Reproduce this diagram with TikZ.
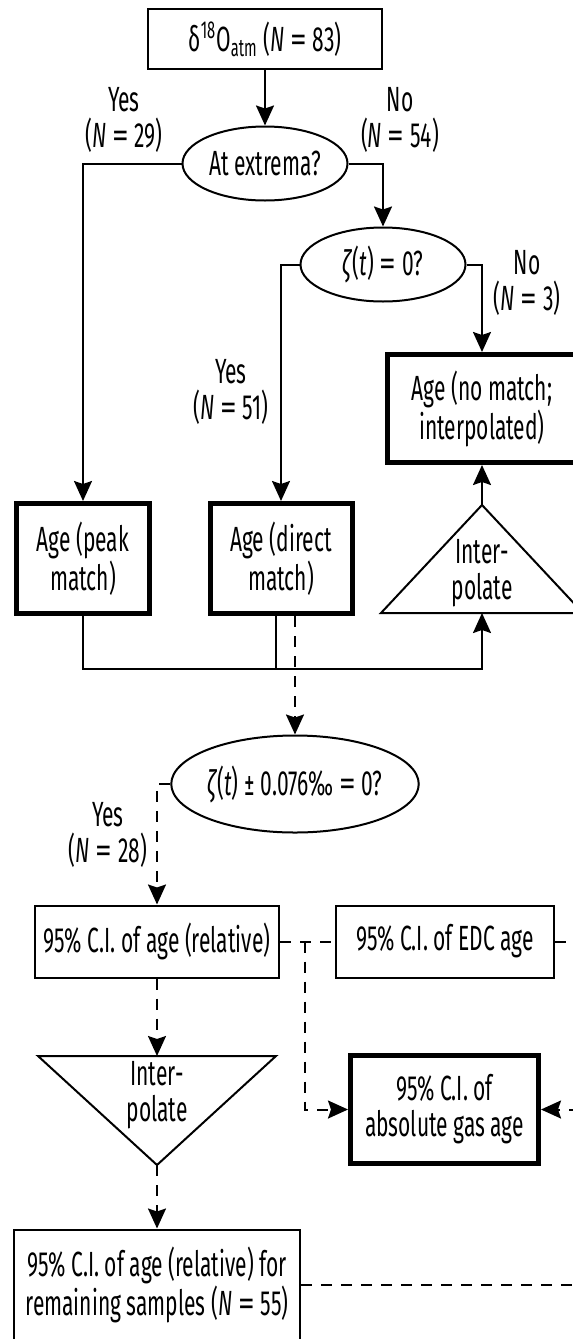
\documentclass[tikz,border=0pt]{standalone}
\usepackage{fontspec}
\setmainfont{Fira Sans}[FakeStretch=0.6]
\usetikzlibrary{arrows.meta,shapes.geometric}
\tikzset{>={Stealth[length=10pt,width=9pt,inset=1.5pt]}}
\newcommand{\eqsign}{\,{\addfontfeatures{FakeStretch=0.95}=}\,}
\tikzset{
  box/.style={draw,line width=1pt,align=center,inner sep=0pt},
  thickbox/.style={box,line width=2.5pt},
  query/.style={ellipse,draw,line width=1pt,inner sep=0pt},
  dashline/.style={line width=1pt,dash pattern=on 5.5pt off 4.5pt},
  solidline/.style={line width=1pt},
  answer/.style={align=center}
}

\begin{document}
\begin{tikzpicture}[x=0.5pt,y=-0.5pt,every node/.style={font=\fontsize{17.5}{18}\selectfont}]
    \useasboundingbox (0,0) rectangle (573,1339);
    \clip (0,0) rectangle (573,1339);

    \coordinate (ipTop) at (482,505);
    \coordinate (ipBase) at (482,613);
    \coordinate (idTop) at (157,1056);
    \coordinate (idApex) at (157,1165);
    \coordinate (bus) at (482,669);
    \coordinate (busL) at (276,669);
    \coordinate (split) at (305,941.5);
    \coordinate (edcOut) at (600,941.5);
    \coordinate (absIn) at (600,1109.5);
    \coordinate (restOut) at (600,1285);

    \node[box,minimum width=117pt,minimum height=30pt] (src) at (265,39)
        {δ\textsuperscript{18}O\textsubscript{atm} (\textit{N}\eqsign 83)};
    \node[query,minimum width=82.5pt,minimum height=37pt] (ext) at (265,163.5) {At extrema?};
    \node[query,minimum width=82.5pt,minimum height=37pt] (zeta) at (383,264.5)
        {\textit{ζ}(\textit{t})\eqsign 0?};

    \node[thickbox,minimum width=66.75pt,minimum height=55pt] (peak) at (83,558.5) {Age (peak\\match)};
    \node[thickbox,minimum width=71pt,minimum height=55pt] (direct) at (281,558.5) {Age (direct\\match)};
    \node[thickbox,minimum width=95pt,minimum height=54pt] (nomatch) at (482,408.5)
        {Age (no match;\\interpolated)};

    \draw[solidline] (381,613) -- (ipTop) -- (583,613) -- cycle;
    \node[answer] (ipUp) at (482,573.5) {Inter-\\polate};

    \node[query,minimum width=114pt,minimum height=48.5pt] (unc) at (295,784)
        {\textit{ζ}(\textit{t})\,±\,0.076‰\eqsign 0?};

    \node[box,minimum width=122pt,minimum height=36pt] (rel) at (157,941.5) {95\% C.I. of age (relative)};
    \node[box,minimum width=109pt,minimum height=36pt] (edc) at (445,941.5) {95\% C.I. of EDC age};
    \node[thickbox,minimum width=94pt,minimum height=54pt] (abs) at (444.5,1109.5)
        {95\% C.I. of\\absolute gas age};

    \draw[solidline] (38,1056) -- (276,1056) -- (idApex) -- cycle;
    \node[answer] (ipDown) at (157,1095) {Inter-\\polate};

    \node[box,minimum width=142.75pt,minimum height=55.5pt] (rest) at (157,1285)
        {95\% C.I. of age (relative) for\\remaining samples (\textit{N}\eqsign 55)};

    \node[answer] (yesA) at (124,120) {Yes\\(\textit{N}\eqsign 29)};
    \node[answer] (noA) at (400,120) {No\\(\textit{N}\eqsign 54)};
    \node[answer] (noB) at (527,283) {No\\(\textit{N}\eqsign 3)};
    \node[answer] (yesB) at (231,392) {Yes\\(\textit{N}\eqsign 51)};
    \node[answer] (yesC) at (108,835) {Yes\\(\textit{N}\eqsign 28)};

    \draw[solidline,->] (src) -- (ext);
    \draw[solidline,->] (ext.west) -| (peak.north);
    \draw[solidline,->] (ext.east) -| (zeta.north);
    \draw[solidline,->] (zeta.west) -| (direct.north);
    \draw[solidline,->] (zeta.east) -| (nomatch.north);
    \draw[solidline,->] (peak.south) |- (bus) -- (ipBase);
    \draw[solidline] (busL |- direct.south) -- (busL);
    \draw[solidline,->] (ipTop) -- (nomatch);

    \draw[dashline,->] (unc.north |- direct.south) -- (unc.north);
    \draw[dashline,->] (unc.west) -| (rel.north);
    \draw[dashline] (rel) -- (edc);
    \draw[dashline,->] (split) |- (abs.west);
    \draw[dashline] (edc) -- (edcOut);
    \draw[dashline,->] (absIn) -- (abs);
    \draw[dashline,->] (rel) -- (idTop);
    \draw[dashline,->] (idApex) -- (rest);
    \draw[dashline] (rest) -- (restOut);
\end{tikzpicture}
\end{document}
